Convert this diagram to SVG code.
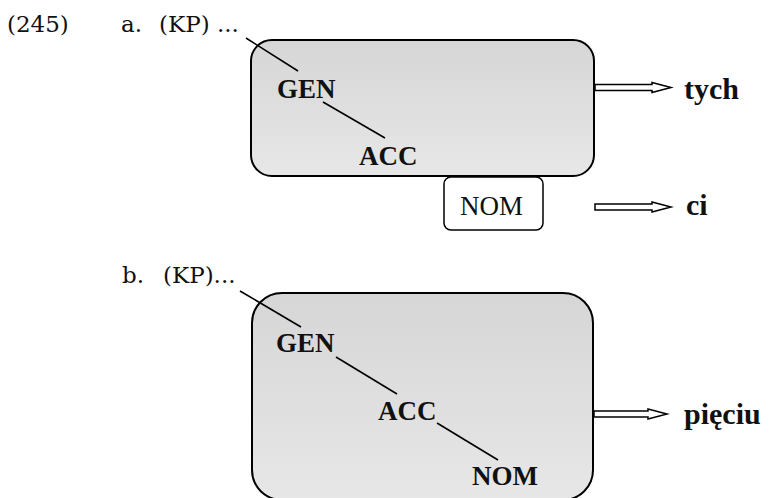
<svg xmlns="http://www.w3.org/2000/svg" width="775" height="498" viewBox="0 0 775 498">
<style>
.box{fill:url(#g);stroke:#000;stroke-width:2}
.sm{fill:#fff;stroke:#000;stroke-width:1.5}
.ln{stroke:#000;stroke-width:1.6;fill:none}
.arr{fill:#fff;stroke:#000;stroke-width:1.5;stroke-linejoin:miter}
</style>
<defs>
<linearGradient id="g" x1="0" y1="0" x2="0" y2="1">
<stop offset="0" stop-color="#d6d6d6"/>
<stop offset="1" stop-color="#e7e7e7"/>
</linearGradient>
</defs>
<g id="labels" font-family="DejaVu Serif, serif" font-size="23" fill="#111">
<text x="7" y="32">(245)</text>
<text x="121" y="32">a.</text>
<text x="159" y="32">(KP) ...</text>
<text x="122" y="283">b.</text>
<text x="163" y="283">(KP)...</text>
</g>
<g id="boxA" font-family="Liberation Serif, serif" font-weight="bold" font-size="27" fill="#111">
<rect class="box" x="251" y="40" width="343" height="136" rx="21" ry="21"/>
<text x="277" y="98">GEN</text>
<text x="359" y="165">ACC</text>
</g>
<g id="nomA" font-family="Liberation Serif, serif" font-size="27" fill="#111">
<rect class="sm" x="444" y="177" width="99" height="53" rx="7" ry="7"/>
<text x="460" y="215">NOM</text>
</g>
<g id="boxB" font-family="Liberation Serif, serif" font-weight="bold" font-size="27" fill="#111">
<rect class="box" x="252" y="293" width="341" height="207" rx="30" ry="30"/>
<text x="276" y="352">GEN</text>
<text x="378" y="420">ACC</text>
<text x="472" y="485">NOM</text>
</g>
<g id="words" font-family="Liberation Serif, serif" font-weight="bold" font-size="30" fill="#111">
<text x="684" y="99">tych</text>
<text x="686" y="215">ci</text>
<text x="684" y="424">pięciu</text>
</g>
<g id="connectors">
<line class="ln" x1="246" y1="38" x2="298" y2="71"/>
<line class="ln" x1="323" y1="102" x2="385" y2="138"/>
<line class="ln" x1="240" y1="291" x2="301" y2="327"/>
<line class="ln" x1="336" y1="357" x2="397" y2="394"/>
<line class="ln" x1="437" y1="423" x2="498" y2="460"/>
<polygon class="arr" points="595,84.5 652,84.5 652,82.5 671,87.5 652,92.5 652,90.5 595,90.5"/>
<polygon class="arr" points="595,204 652,204 652,202 671,207 652,212 652,210 595,210"/>
<polygon class="arr" points="594,411 648,411 648,409 667,414 648,419 648,417 594,417"/>
</g>
</svg>
